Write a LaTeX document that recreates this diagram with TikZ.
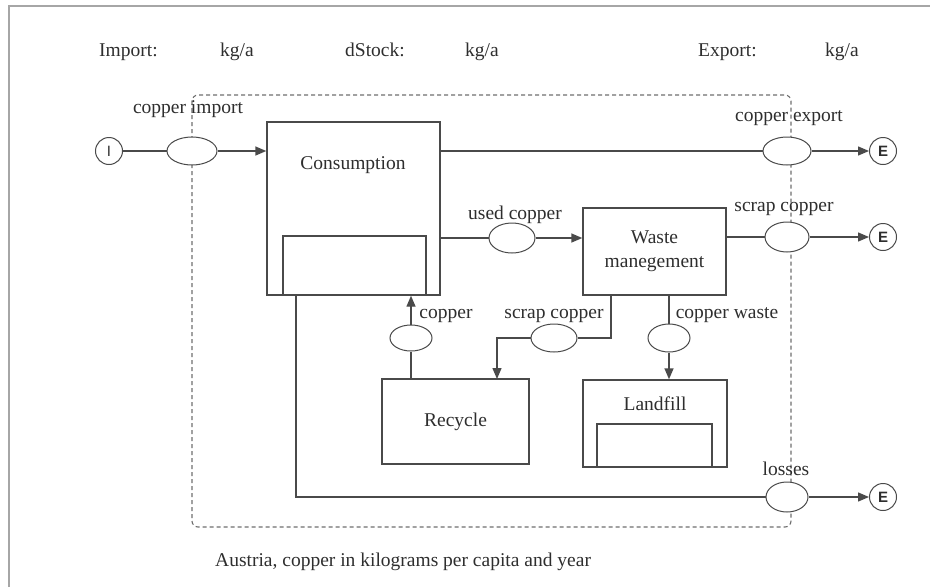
\documentclass[tikz,border=0pt]{standalone}
\usepackage{fontspec}
\setmainfont{Liberation Serif}
\newfontfamily\circfont{Liberation Sans}
\usetikzlibrary{arrows.meta,shapes.geometric,calc}
\definecolor{ink}{HTML}{2E2E2E}
\definecolor{wire}{HTML}{4A4A4A}
\begin{document}
\begin{tikzpicture}[x=1pt,y=-1pt,
  every node/.style={font=\fontsize{19.5}{22}\selectfont,text=ink,inner sep=0pt},
  proc/.style={draw=wire,line width=1.4pt},
  flowell/.style={ellipse,draw=wire,line width=1pt,fill=white,minimum width=#1,minimum height=28},
  terminal/.style={circle,draw=wire,line width=1pt,minimum size=27,font=\circfont\fontsize{15}{15}\selectfont},
  flow/.style={draw=wire,line width=1.4pt},
  arr/.style={flow,-{Triangle[length=11pt,width=9pt]}},
  lbl/.style={anchor=base},
  sysbox/.style={draw=wire!80,line width=1.1pt,dash pattern=on 4pt off 3pt,rounded corners=6pt},
]
\useasboundingbox (0,0) rectangle (930,587);
% page frame
\draw[gray!70,line width=2pt] (9,587) -- (9,6) -- (930,6);

% header
\node[anchor=base west] (himp) at (99,56) {Import:};
\node[anchor=base west] (himpu) at (220,56) {kg/a};
\node[anchor=base west] (hst) at (345,56) {dStock:};
\node[anchor=base west] (hstu) at (465,56) {kg/a};
\node[anchor=base west] (hexp) at (698,56) {Export:};
\node[anchor=base west] (hexpu) at (825,56) {kg/a};

% system boundary
\draw[sysbox] (192,95) rectangle (791,527);

% processes
\node[proc,minimum width=173,minimum height=173] (cons) at (353.5,208.5) {};
\draw[proc] (283,295) -- (283,236) -- (426,236) -- (426,295);
\node (consT) at (353,165) {Consumption};
\node[proc,minimum width=143,minimum height=87,align=center,font=\fontsize{19.5}{24}\selectfont] (waste) at (654.5,251.5) {Waste\\manegement};
\node[proc,minimum width=147,minimum height=85] (rec) at (455.5,421.5) {Recycle};
\node[proc,minimum width=144,minimum height=87] (land) at (655,423.5) {};
\draw[proc] (597,467) -- (597,424) -- (712,424) -- (712,467);
\node (landT) at (655,404) {Landfill};

% import / export terminals
\node[terminal] (I) at (109,151) {I};
\node[terminal,font=\circfont\bfseries\fontsize{15}{15}\selectfont] (E1) at (883,151) {E};
\node[terminal,font=\circfont\bfseries\fontsize{15}{15}\selectfont] (E2) at (883,237) {E};
\node[terminal,font=\circfont\bfseries\fontsize{15}{15}\selectfont] (E3) at (883,497) {E};

% flow markers
\node[flowell=50] (fimp) at (192,151) {};
\node[flowell=48] (fexp) at (787,151) {};
\node[flowell=44,minimum height=30] (fscr) at (787,237) {};
\node[flowell=46,minimum height=30] (fused) at (512,238) {};
\node[flowell=42,minimum height=26] (fcop) at (411,338) {};
\node[flowell=46] (fscr2) at (554,338) {};
\node[flowell=42] (fcw) at (669,338) {};
\node[flowell=42,minimum height=30] (floss) at (787,497) {};

% flows
\draw[flow] (I.east) -- (fimp.west);
\draw[arr] (fimp.east) -- (fimp.east -| cons.west);
\draw[flow] (cons.east |- fexp.west) -- (fexp.west);
\draw[arr] (fexp.east) -- (E1.west);
\draw[flow] (cons.east |- fused.west) -- (fused.west);
\draw[arr] (fused.east) -- (fused.east -| waste.west);
\draw[flow] (waste.east |- fscr.west) -- (fscr.west);
\draw[arr] (fscr.east) -- (E2.west);
\draw[flow] (fcop.south |- rec.north) -- (fcop.south);
\draw[arr] (fcop.north) -- (fcop.north |- cons.south);
\draw[flow] (611,295) |- (fscr2.east);
\draw[arr] (fscr2.west) -| (497,379);
\draw[flow] (fcw.north |- waste.south) -- (fcw.north);
\draw[arr] (fcw.south) -- (fcw.south |- land.north);
\draw[flow] (296,295) |- (floss.west);
\draw[arr] (floss.east) -- (E3.west);

% flow labels
\node[lbl] (limp) at (188,113) {copper import};
\node[lbl] (lexp) at (789,121) {copper export};
\node[lbl] (lscr) at (784,211) {scrap copper};
\node[lbl] (lused) at (515,219) {used copper};
\node[lbl] (lcop) at (446,318) {copper};
\node[lbl] (lscr2) at (554,318) {scrap copper};
\node[lbl] (lcw) at (727,318) {copper waste};
\node[lbl] (lloss) at (786,475) {losses};

% caption
\node[anchor=base west] (cap) at (215,566) {Austria, copper in kilograms per capita and year};
\end{tikzpicture}
\end{document}
